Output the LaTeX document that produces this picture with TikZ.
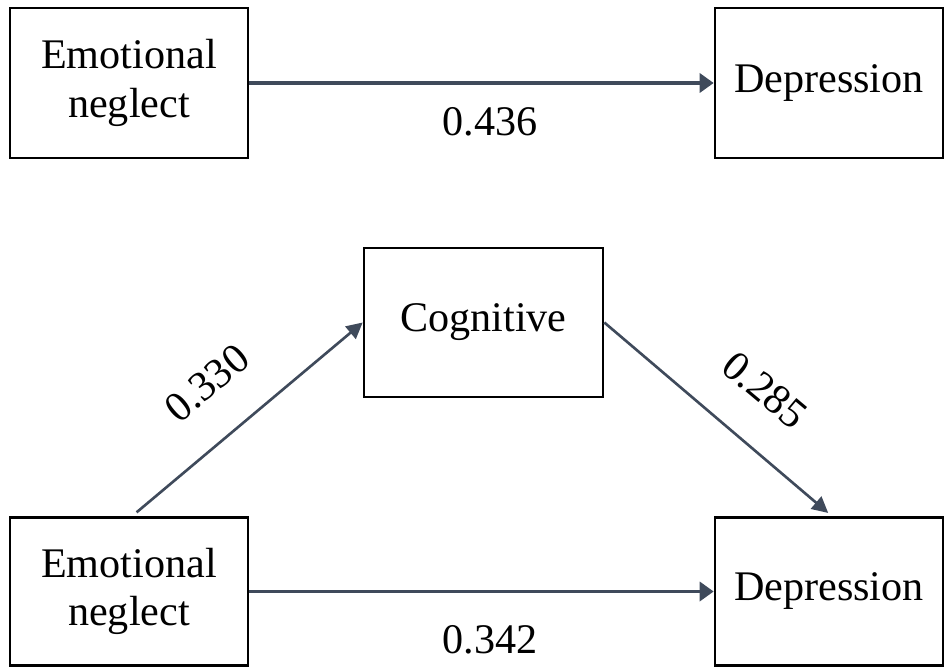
\documentclass[tikz,border=0pt]{standalone}
\usepackage{fontspec}
\setmainfont{Liberation Serif}
\usetikzlibrary{calc}
\usetikzlibrary{arrows.meta}
\usepackage{xcolor}
\definecolor{linkgray}{HTML}{3F4A5B}

\tikzset{
  varbox/.style={draw, line width=1.5pt, align=center, inner sep=0pt,
    font=\fontsize{24}{27.5}\selectfont},
  coef/.style={font=\fontsize{24}{27.5}\selectfont, inner sep=0pt},
  link/.style={linkgray, line width=2pt, -{Triangle[length=0.28cm, width=0.38cm]}},
  slink/.style={linkgray, line width=1.5pt, -{Triangle[length=0.32cm, width=0.32cm]}}
}

\begin{document}
\begin{tikzpicture}
\useasboundingbox (0,0) rectangle (18.92,13.36);
\node [varbox, minimum width=4.76cm, minimum height=3cm] (EmoA) at (2.58,11.70) {Emotional\\neglect};
\node [varbox, minimum width=4.56cm, minimum height=3cm] (DepA) at (16.58,11.70) {Depression};
\node [varbox, minimum width=4.78cm, minimum height=2.98cm] (Cog) at (9.67,6.91) {Cognitive};
\node [varbox, minimum width=4.76cm, minimum height=2.96cm] (EmoB) at (2.58,1.53) {Emotional\\neglect};
\node [varbox, minimum width=4.56cm, minimum height=2.96cm] (DepB) at (16.58,1.53) {Depression};
\draw[link] (EmoA.east)--(DepA.west);
\draw[link] (EmoB.east)--(DepB.west);
\draw[slink, shorten <=.12cm] ($(EmoB.north)+(.06,0)$)--(Cog.west);
\draw[slink, shorten >=.1cm] (Cog.east)--($(DepB.north)+(.06,0)$);
\node [coef] (cA) at (9.80,10.92) {0.436};
\node [coef] (cB) at (9.80,0.56) {0.342};
\node [coef, rotate=40] (cC) at (4.14,5.70) {0.330};
\node [coef, rotate=-40] (cD) at (15.30,5.56) {0.285};
\end{tikzpicture}
\end{document}
